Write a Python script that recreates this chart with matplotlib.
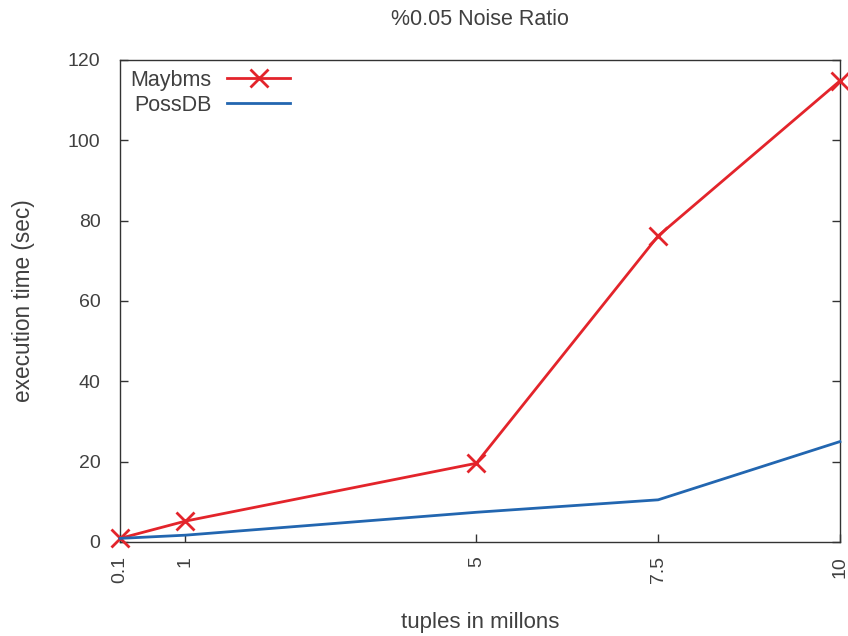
import matplotlib.pyplot as plt

# tuples in millions
tuples = [0.1, 1, 5, 7.5, 10]
tick_labels = ['0.1', '1', '5', '7.5', '10']

# execution time (sec)
maybms = [0.9, 5.2, 19.6, 76.2, 114.8]
possdb = [0.9, 1.7, 7.4, 10.5, 25.0]

plt.rcParams['font.family'] = ['Liberation Sans', 'DejaVu Sans']
grey = '#404040'

fig = plt.figure(figsize=(8.48, 6.36), dpi=100)
ax = fig.add_axes([0.1415, 0.1478, 0.849, 0.7579])

ax.plot(tuples, maybms, color='#e3242b', lw=2, marker='x', ms=13, mew=2,
        label='Maybms', clip_on=False, zorder=3)
ax.plot(tuples, possdb, color='#2266b0', lw=2, label='PossDB',
        clip_on=False, zorder=3)

ax.set_xlim(0.1, 10)
ax.set_ylim(0, 120)
ax.set_xticks(tuples)
ax.set_xticklabels(tick_labels, rotation=90)
ax.set_yticks(range(0, 121, 20))

ax.tick_params(axis='both', direction='in', length=6, width=1, colors='#333333',
               labelcolor=grey, labelsize=14)
ax.tick_params(axis='y', right=True, pad=14)
ax.tick_params(axis='x', pad=10)
for s in ax.spines.values():
    s.set_color('#333333')
    s.set_linewidth(1)

ax.set_title('%0.05 Noise Ratio', color=grey, fontsize=15.5, pad=25.5)
ax.set_xlabel('tuples in millons', color=grey, fontsize=16, labelpad=21)
ax.set_ylabel('execution time (sec)', color=grey, fontsize=16.3, labelpad=24)

leg = ax.legend(loc='upper left', markerfirst=False, frameon=False,
                fontsize=15.5, handlelength=2.9, handletextpad=0.75,
                borderaxespad=0.0, labelspacing=0.19,
                bbox_to_anchor=(0.002, 0.998))
for t in leg.get_texts():
    t.set_color(grey)

fig.savefig('out.png', dpi=100)
